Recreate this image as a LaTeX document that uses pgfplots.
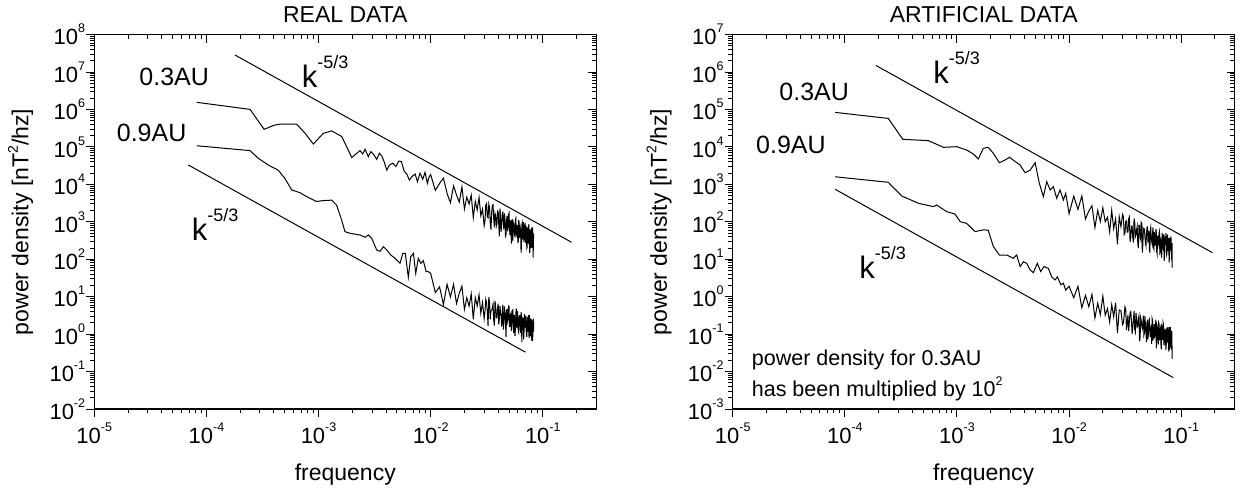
\documentclass[border=0pt]{standalone}
\usepackage{pgfplots}
\pgfplotsset{compat=1.18}
\usepackage{pgfplotstable}
\usepackage{fontspec}
\setmainfont{Liberation Sans}
\newcommand{\pw}[1]{10\raisebox{12pt}{\fontsize{12.5}{12.5}\selectfont #1}}
\newcommand{\kk}{k\raisebox{19pt}{\fontsize{18}{18}\selectfont -5/3}}

\pgfplotstableread{
f P
8.2e-5 1.56e6
2.45e-4 1.01e6
3.27e-4 2.97e5
4.0e-4 3.8e5
4.54e-4 4.1e5
6.38e-4 4.1e5
7.6e-4 2.3e5
8.99e-4 1.2e5
1.1e-3 2.3e5
1.31e-3 2.7e5
1.61e-3 1.9e5
1.78e-3 1.02e5
1.98e-3 5.2e4
2.19e-3 6.8e4
2.34e-3 8.0e4
2.48e-3 6.5e4
2.60e-3 8.7e4
2.78e-3 5.5e4
2.92e-3 7.5e4
3.08e-3 6.5e4
3.30e-3 4.7e4
3.49e-3 6.8e4
3.66e-3 5.8e4
3.84e-3 4.1e4
4.06e-3 2.4e4
4.29e-3 3.3e4
4.59e-3 3.7e4
4.91e-3 3.0e4
5.19e-3 4.2e4
5.48e-3 4.1e4
5.79e-3 2.3e4
6.12e-3 1.9e4
6.46e-3 1.3e4
6.78e-3 1.6e4
7.26e-3 1.9e4
7.62e-3 1.19e4
8.04e-3 2.0e4
8.5e-3 1.37e4
8.9e-3 2.1e4
9.35e-3 1.07e4
9.7e-3 1.6e4
0.010 18300
0.011 6930
0.012 10600
0.013 14700
0.014 5760
0.015 3240
0.016 9150
0.017 5220
0.018 3360
0.019 8600
0.020 2210
0.021 4570
0.022 2990
0.023 5150
0.024 1300
0.025 3550
0.026 2080
0.027 4510
0.028 1460
0.029 2180
0.030 790
0.0305 1050
0.031 2810
0.0315 3080
0.032 1340
0.0325 1280
0.033 2950
0.0335 2360
0.034 954
0.0345 620
0.035 1810
0.0355 2800
0.036 2880
0.0365 1190
0.037 712
0.0375 1680
0.038 1470
0.0385 768
0.039 888
0.0395 1960
0.040 1900
0.0405 823
0.041 408
0.0415 2250
0.042 1550
0.0425 540
0.043 943
0.0435 1350
0.044 1900
0.0445 900
0.045 617
0.0455 1680
0.046 1190
0.0465 416
0.047 454
0.0475 1030
0.048 1460
0.0485 560
0.049 701
0.0495 1540
0.050 1710
0.0505 642
0.051 441
0.0515 1085
0.052 762
0.0525 263
0.053 1120
0.0535 1130
0.054 301
0.0545 670
0.055 915
0.0555 818
0.056 476
0.0565 384
0.057 1160
0.0575 1250
0.058 501
0.0585 449
0.059 688
0.0595 818
0.060 287
0.0605 295
0.061 1110
0.0615 945
0.062 373
0.0625 491
0.063 693
0.0635 597
0.064 150
0.0645 222
0.065 822
0.0655 923
0.066 450
0.0665 340
0.067 986
0.0675 730
0.068 288
0.0685 371
0.069 661
0.0695 951
0.070 348
0.0705 272
0.071 796
0.0715 553
0.072 197
0.0725 207
0.073 512
0.0735 717
0.074 262
0.0745 337
0.075 869
0.0755 563
0.076 282
0.0765 149
0.077 436
0.0775 616
0.078 198
0.0785 263
0.079 586
0.0795 699
0.080 288
0.0805 198
0.081 712
0.0815 458
0.082 111
0.0825 311
0.083 481
}\realA

\pgfplotstableread{
f P
8.2e-5 1.08e5
2.45e-4 8.0e4
2.9e-4 5.0e4
3.56e-4 3.3e4
4.37e-4 2.4e4
5.0e-4 1.46e4
5.77e-4 7.1e3
6.84e-4 6.0e3
7.85e-4 4.7e3
9.6e-4 3.5e3
1.1e-3 3.7e3
1.31e-3 3.8e3
1.45e-3 2.8e3
1.61e-3 1.1e3
1.72e-3 547
1.91e-3 493
2.34e-3 446
2.60e-3 386
2.78e-3 446
2.98e-3 363
3.30e-3 177
3.54e-3 163
3.79e-3 217
4.06e-3 177
4.41e-3 130
4.81e-3 106
5.33e-3 78
5.64e-3 144
5.94e-3 144
6.32e-3 33
6.64e-3 117
7.02e-3 144
7.36e-3 42
7.76e-3 106
8.17e-3 78
8.6e-3 92
9.1e-3 47
9.5e-3 47
0.010 42
0.011 12.9
0.012 18.3
0.013 6.2
0.014 21.4
0.015 9.9
0.016 21.2
0.017 6.6
0.018 12.4
0.019 19.1
0.020 4.6
0.021 9.4
0.022 5.6
0.023 11.8
0.024 2.5
0.025 9.4
0.026 5.7
0.027 11.3
0.028 3.6
0.029 7.0
0.030 2.6
0.0305 4.1
0.031 8.4
0.0315 6.9
0.032 4.0
0.0325 1.66
0.033 9.7
0.0335 7.1
0.034 2.5
0.0345 4.2
0.035 4.3
0.0355 5.1
0.036 6.3
0.0365 2.4
0.037 1.7
0.0375 7.7
0.038 5.1
0.0385 2.7
0.039 2.7
0.0395 5.0
0.040 6.5
0.0405 1.79
0.041 2.8
0.0415 5.7
0.042 3.8
0.0425 2.9
0.043 1.6
0.0435 3.6
0.044 6.1
0.0445 1.33
0.045 2.1
0.0455 5.5
0.046 3.8
0.0465 2.0
0.047 0.83
0.0475 4.4
0.048 4.5
0.0485 2.2
0.049 2.5
0.0495 5.6
0.050 5.4
0.0505 1.6
0.051 1.6
0.0515 3.3
0.052 3.6
0.0525 1.22
0.053 1.9
0.0535 4.2
0.054 4.4
0.0545 2.0
0.055 1.08
0.0555 3.3
0.056 2.8
0.0565 0.88
0.057 1.44
0.0575 3.6
0.058 4.8
0.0585 1.55
0.059 1.55
0.0595 4.1
0.060 2.4
0.0605 1.17
0.061 1.09
0.0615 2.7
0.062 3.2
0.0625 1.83
0.063 1.59
0.0635 1.09
0.064 3.9
0.0645 3.3
0.065 0.62
0.0655 1.43
0.066 2.7
0.0665 2.7
0.067 2.6
0.0675 0.73
0.068 1.15
0.0685 3.4
0.069 2.0
0.0695 1.5
0.070 3.1
0.0705 2.2
0.071 1.36
0.0715 1.02
0.072 0.85
0.0725 2.7
0.073 2.6
0.0735 1.15
0.074 1.63
0.0745 3.2
0.075 1.14
0.0755 0.8
0.076 3.2
0.0765 2.0
0.077 0.87
0.0775 1.38
0.078 1.9
0.0785 2.6
0.079 1.34
0.0795 0.67
0.080 2.4
0.0805 1.68
0.081 0.65
0.0815 0.94
0.082 1.9
0.0825 2.6
0.083 1.16
}\realB

\pgfplotstableread{
f P
8.2e-5 8.4e4
2.44e-4 5.8e4
3.29e-4 1.6e4
5.56e-4 1.48e4
7.57e-4 9.8e3
9.95e-4 1.02e4
1.22e-3 8.3e3
1.40e-3 6.5e3
1.55e-3 4.8e3
1.72e-3 9.2e3
1.9e-3 9.8e3
2.11e-3 6.8e3
2.39e-3 3.8e3
2.69e-3 4.5e3
2.94e-3 5.3e3
3.30e-3 4.1e3
3.66e-3 3.3e3
4.05e-3 2.06e3
4.49e-3 2.4e3
4.98e-3 3.8e3
5.43e-3 1.07e3
5.9e-3 471
6.32e-3 1.19e3
6.78e-3 710
7.24e-3 871
7.76e-3 425
8.3e-3 710
8.9e-3 384
9.33e-3 578
0.010 165
0.011 485
0.012 216
0.013 491
0.014 119
0.015 195
0.016 270
0.017 70
0.018 203
0.019 102
0.020 239
0.021 100
0.022 132
0.023 54
0.024 202
0.025 66
0.026 120
0.027 25
0.028 137
0.029 74
0.030 158
0.0305 140
0.031 46
0.0315 50
0.032 102
0.0325 107
0.033 53
0.0335 53
0.034 120
0.0345 135
0.035 29
0.0355 38
0.036 75
0.0365 77
0.037 38
0.0375 28
0.038 124
0.0385 97
0.039 40
0.0395 45
0.040 61
0.0405 75
0.041 27
0.0415 20
0.042 81
0.0425 80
0.043 39
0.0435 34
0.044 96
0.0445 90
0.045 15
0.0455 25
0.046 64
0.0465 58
0.047 62
0.0475 39
0.048 27
0.0485 23
0.049 47
0.0495 70
0.050 72
0.0505 30
0.051 31
0.0515 57
0.052 19
0.0525 15
0.053 60
0.0535 71
0.054 37
0.0545 31
0.055 26
0.0555 45
0.056 71
0.0565 21
0.057 19
0.0575 54
0.058 42
0.0585 23
0.059 29
0.0595 65
0.060 53
0.0605 16
0.061 14
0.0615 40
0.062 41
0.0625 27
0.063 25
0.0635 52
0.064 57
0.0645 13
0.065 19
0.0655 33
0.066 30
0.0665 18
0.067 11
0.0675 51
0.068 41
0.0685 22
0.069 20
0.0695 37
0.070 47
0.0705 9.1
0.071 15
0.0715 40
0.072 30
0.0725 24
0.073 50
0.0735 30
0.074 13
0.0745 14
0.075 27
0.0755 46
0.076 17
0.0765 17
0.077 37
0.0775 31
0.078 8.1
0.0785 11
0.079 32
0.0795 37
0.080 20
0.0805 19
0.081 41
0.0815 24
0.082 13
0.0825 8.9
0.083 27
0.0832 6
}\artA

\pgfplotstableread{
f P
8.2e-5 1.6e3
2.44e-4 1.14e3
3.22e-4 491
4.53e-4 313
6.17e-4 255
6.6e-4 282
8.1e-4 187
9.6e-4 162
1.07e-3 101
1.22e-3 91
1.45e-3 55
1.72e-3 61
1.9e-3 60
2.11e-3 22
2.39e-3 13
2.78e-3 13
3.18e-3 10.6
3.41e-3 13
3.66e-3 6.4
3.92e-3 8.6
4.19e-3 7.8
4.49e-3 5.2
4.8e-3 4.4
5.21e-3 7.8
5.58e-3 4.7
5.98e-3 6.4
6.53e-3 5.7
7.0e-3 3.4
7.5e-3 2.8
7.87e-3 3.4
8.43e-3 2.1
8.9e-3 2.3
9.33e-3 1.5
0.010 1.9
0.011 0.94
0.012 1.89
0.013 0.51
0.014 1.09
0.015 0.54
0.016 1.16
0.017 0.27
0.018 0.67
0.019 0.33
0.020 1.04
0.021 0.32
0.022 0.48
0.023 0.21
0.024 0.61
0.025 0.29
0.026 0.69
0.027 0.106
0.028 0.44
0.029 0.42
0.030 0.18
0.0305 0.197
0.031 0.31
0.0315 0.54
0.032 0.47
0.0325 0.129
0.033 0.20
0.0335 0.32
0.034 0.12
0.0345 0.216
0.035 0.37
0.0355 0.40
0.036 0.227
0.0365 0.100
0.037 0.156
0.0375 0.247
0.038 0.42
0.0385 0.135
0.039 0.115
0.0395 0.37
0.040 0.25
0.0405 0.156
0.041 0.171
0.0415 0.265
0.042 0.31
0.0425 0.064
0.043 0.081
0.0435 0.274
0.044 0.23
0.0445 0.163
0.045 0.141
0.0455 0.20
0.046 0.31
0.0465 0.094
0.047 0.106
0.0475 0.308
0.048 0.164
0.0485 0.111
0.049 0.061
0.0495 0.203
0.050 0.22
0.0505 0.073
0.051 0.109
0.0515 0.234
0.052 0.25
0.0525 0.122
0.053 0.083
0.0535 0.150
0.054 0.161
0.0545 0.055
0.055 0.26
0.0555 0.232
0.056 0.067
0.0565 0.086
0.057 0.14
0.0575 0.185
0.058 0.087
0.0585 0.094
0.059 0.19
0.0595 0.242
0.060 0.042
0.0605 0.069
0.061 0.16
0.0615 0.141
0.062 0.10
0.0625 0.053
0.063 0.20
0.0635 0.185
0.064 0.068
0.0645 0.087
0.065 0.132
0.0655 0.146
0.066 0.052
0.0665 0.039
0.067 0.168
0.0675 0.160
0.068 0.082
0.0685 0.069
0.069 0.20
0.0695 0.182
0.070 0.053
0.0705 0.052
0.071 0.094
0.0715 0.121
0.072 0.139
0.0725 0.082
0.073 0.038
0.0735 0.050
0.074 0.117
0.0745 0.150
0.075 0.062
0.0755 0.065
0.076 0.153
0.0765 0.123
0.077 0.067
0.0775 0.034
0.078 0.093
0.0785 0.156
0.079 0.039
0.0795 0.069
0.080 0.153
0.0805 0.100
0.081 0.052
0.0815 0.047
0.082 0.098
0.0825 0.123
0.083 0.022
}\artB

\begin{document}
\begin{tikzpicture}
\useasboundingbox (-94.3pt,-80pt) rectangle (1146.7pt,409pt);
% ================= left panel =================
\begin{axis}[
  xmode=log, ymode=log,
  scale only axis, width=502pt, height=374.3pt,
  at={(0pt,0pt)}, anchor=south west,
  xmin=1e-5, xmax=0.3, ymin=1e-2, ymax=1e8,
  axis line style={line width=1.5pt},
  tick style={line width=1pt, black},
  major tick length=8pt, minor tick length=4.5pt,
  tick align=outside, xtick pos=left, ytick pos=left,
  xtick={1e-5,1e-4,1e-3,1e-2,1e-1},
  xticklabels={\pw{-5},\pw{-4},\pw{-3},\pw{-2},\pw{-1}},
  minor xtick={2e-5,3e-5,4e-5,5e-5,6e-5,7e-5,8e-5,9e-5,2e-4,3e-4,4e-4,5e-4,6e-4,7e-4,8e-4,9e-4,2e-3,3e-3,4e-3,5e-3,6e-3,7e-3,8e-3,9e-3,2e-2,3e-2,4e-2,5e-2,6e-2,7e-2,8e-2,9e-2,0.2},
  ytick={1e-2,1e-1,1,10,100,1e3,1e4,1e5,1e6,1e7,1e8},
  yticklabels={\pw{-2},\pw{-1},\pw{0},\pw{1},\pw{2},\pw{3},\pw{4},\pw{5},\pw{6},\pw{7},\pw{8}},
  minor ytick={2e-2,3e-2,4e-2,5e-2,6e-2,7e-2,8e-2,9e-2,0.2,0.3,0.4,0.5,0.6,0.7,0.8,0.9,2,3,4,5,6,7,8,9,20,30,40,50,60,70,80,90,200,300,400,500,600,700,800,900,2e3,3e3,4e3,5e3,6e3,7e3,8e3,9e3,2e4,3e4,4e4,5e4,6e4,7e4,8e4,9e4,2e5,3e5,4e5,5e5,6e5,7e5,8e5,9e5,2e6,3e6,4e6,5e6,6e6,7e6,8e6,9e6,2e7,3e7,4e7,5e7,6e7,7e7,8e7,9e7},
  tick label style={font=\fontsize{22}{22}\selectfont},
  xticklabel style={inner sep=0pt, yshift=-5.7pt},
  yticklabel style={inner sep=0pt, xshift=-1pt},
  clip=false,
  title={REAL DATA},
  title style={at={(axis description cs:0.5,1)}, anchor=base, yshift=6pt, font=\fontsize{23}{23}\selectfont},
  xlabel={frequency},
  xlabel style={at={(axis description cs:0.5,0)}, anchor=base, yshift=-71pt, font=\fontsize{23}{23}\selectfont},
  ylabel={power density [nT\raisebox{10.5pt}{\fontsize{14}{14}\selectfont 2}/hz]},
  ylabel style={at={(axis description cs:-0.1311,0.5)}, anchor=base, font=\fontsize{23}{23}\selectfont},
]
\addplot[black, line width=1pt] table[x=f,y=P] {\realA};
\addplot[black, line width=1pt] table[x=f,y=P] {\realB};
\addplot[black, line width=1pt] coordinates {(1.8e-4,2.86e7) (0.18,286)};
\addplot[black, line width=1pt] coordinates {(6.9e-5,3.3e4) (0.07,0.33)};
\node[anchor=base west, inner sep=0pt, font=\fontsize{25}{25}\selectfont] at (rel axis cs:0.0896,0.8656) {0.3AU};
\node[anchor=base west, inner sep=0pt, font=\fontsize{25}{25}\selectfont] at (rel axis cs:0.0446,0.714) {0.9AU};
\node[anchor=base west, inner sep=0pt, font=\fontsize{31}{31}\selectfont] at (rel axis cs:0.413,0.8595) {\kk};
\node[anchor=base west, inner sep=0pt, font=\fontsize{31}{31}\selectfont] at (rel axis cs:0.194,0.4497) {\kk};
\end{axis}
\begin{axis}[
  xmode=log, ymode=log,
  scale only axis, width=502pt, height=374.3pt,
  at={(0pt,0pt)}, anchor=south west,
  xmin=1e-5, xmax=0.3, ymin=1e-2, ymax=1e8,
  axis line style={line width=1.5pt},
  tick style={line width=1pt, black},
  major tick length=8pt, minor tick length=4.5pt,
  tick align=inside, xtick pos=right, ytick pos=right,
  xtick={1e-5,1e-4,1e-3,1e-2,1e-1},
  xticklabels={},
  minor xtick={2e-5,3e-5,4e-5,5e-5,6e-5,7e-5,8e-5,9e-5,2e-4,3e-4,4e-4,5e-4,6e-4,7e-4,8e-4,9e-4,2e-3,3e-3,4e-3,5e-3,6e-3,7e-3,8e-3,9e-3,2e-2,3e-2,4e-2,5e-2,6e-2,7e-2,8e-2,9e-2,0.2},
  ytick={1e-2,1e-1,1,10,100,1e3,1e4,1e5,1e6,1e7,1e8},
  yticklabels={},
  minor ytick={2e-2,3e-2,4e-2,5e-2,6e-2,7e-2,8e-2,9e-2,0.2,0.3,0.4,0.5,0.6,0.7,0.8,0.9,2,3,4,5,6,7,8,9,20,30,40,50,60,70,80,90,200,300,400,500,600,700,800,900,2e3,3e3,4e3,5e3,6e3,7e3,8e3,9e3,2e4,3e4,4e4,5e4,6e4,7e4,8e4,9e4,2e5,3e5,4e5,5e5,6e5,7e5,8e5,9e5,2e6,3e6,4e6,5e6,6e6,7e6,8e6,9e6,2e7,3e7,4e7,5e7,6e7,7e7,8e7,9e7},
]
\end{axis}
% ================= right panel =================
\begin{axis}[
  xmode=log, ymode=log,
  scale only axis, width=502pt, height=374.3pt,
  at={(638.4pt,0pt)}, anchor=south west,
  xmin=1e-5, xmax=0.3, ymin=1e-3, ymax=1e7,
  axis line style={line width=1.5pt},
  tick style={line width=1pt, black},
  major tick length=8pt, minor tick length=4.5pt,
  tick align=outside, xtick pos=left, ytick pos=left,
  xtick={1e-5,1e-4,1e-3,1e-2,1e-1},
  xticklabels={\pw{-5},\pw{-4},\pw{-3},\pw{-2},\pw{-1}},
  minor xtick={2e-5,3e-5,4e-5,5e-5,6e-5,7e-5,8e-5,9e-5,2e-4,3e-4,4e-4,5e-4,6e-4,7e-4,8e-4,9e-4,2e-3,3e-3,4e-3,5e-3,6e-3,7e-3,8e-3,9e-3,2e-2,3e-2,4e-2,5e-2,6e-2,7e-2,8e-2,9e-2,0.2},
  ytick={1e-3,1e-2,1e-1,1,10,100,1e3,1e4,1e5,1e6,1e7},
  yticklabels={\pw{-3},\pw{-2},\pw{-1},\pw{0},\pw{1},\pw{2},\pw{3},\pw{4},\pw{5},\pw{6},\pw{7}},
  minor ytick={2e-3,3e-3,4e-3,5e-3,6e-3,7e-3,8e-3,9e-3,2e-2,3e-2,4e-2,5e-2,6e-2,7e-2,8e-2,9e-2,0.2,0.3,0.4,0.5,0.6,0.7,0.8,0.9,2,3,4,5,6,7,8,9,20,30,40,50,60,70,80,90,200,300,400,500,600,700,800,900,2e3,3e3,4e3,5e3,6e3,7e3,8e3,9e3,2e4,3e4,4e4,5e4,6e4,7e4,8e4,9e4,2e5,3e5,4e5,5e5,6e5,7e5,8e5,9e5,2e6,3e6,4e6,5e6,6e6,7e6,8e6,9e6},
  tick label style={font=\fontsize{22}{22}\selectfont},
  xticklabel style={inner sep=0pt, yshift=-5.7pt},
  yticklabel style={inner sep=0pt, xshift=-1pt},
  clip=false,
  title={ARTIFICIAL DATA},
  title style={at={(axis description cs:0.5,1)}, anchor=base, yshift=6pt, font=\fontsize{23}{23}\selectfont},
  xlabel={frequency},
  xlabel style={at={(axis description cs:0.5,0)}, anchor=base, yshift=-71pt, font=\fontsize{23}{23}\selectfont},
  ylabel={power density [nT\raisebox{10.5pt}{\fontsize{14}{14}\selectfont 2}/hz]},
  ylabel style={at={(axis description cs:-0.1311,0.5)}, anchor=base, font=\fontsize{23}{23}\selectfont},
]
\addplot[black, line width=1pt] table[x=f,y=P] {\artA};
\addplot[black, line width=1pt] table[x=f,y=P] {\artB};
\addplot[black, line width=1pt] coordinates {(1.9e-4,1.5e6) (0.19,15)};
\addplot[black, line width=1pt] coordinates {(8.2e-5,740) (0.085,0.0069)};
\node[anchor=base west, inner sep=0pt, font=\fontsize{25}{25}\selectfont] at (rel axis cs:0.0928,0.8255) {0.3AU};
\node[anchor=base west, inner sep=0pt, font=\fontsize{25}{25}\selectfont] at (rel axis cs:0.0464,0.6832) {0.9AU};
\node[anchor=base west, inner sep=0pt, font=\fontsize{31}{31}\selectfont] at (rel axis cs:0.3994,0.870) {\kk};
\node[anchor=base west, inner sep=0pt, font=\fontsize{31}{31}\selectfont] at (rel axis cs:0.252,0.349) {\kk};
\node[anchor=base west, inner sep=0pt, font=\fontsize{21.5}{21.5}\selectfont] at (rel axis cs:0.0378,0.1149) {power density for 0.3AU};
\node[anchor=base west, inner sep=0pt, font=\fontsize{21.5}{21.5}\selectfont] at (rel axis cs:0.0378,0.0329) {has been multiplied by 10\raisebox{11pt}{\fontsize{12.5}{12.5}\selectfont 2}};
\end{axis}
\begin{axis}[
  xmode=log, ymode=log,
  scale only axis, width=502pt, height=374.3pt,
  at={(638.4pt,0pt)}, anchor=south west,
  xmin=1e-5, xmax=0.3, ymin=1e-3, ymax=1e7,
  axis line style={line width=1.5pt},
  tick style={line width=1pt, black},
  major tick length=8pt, minor tick length=4.5pt,
  tick align=inside, xtick pos=right, ytick pos=right,
  xtick={1e-5,1e-4,1e-3,1e-2,1e-1},
  xticklabels={},
  minor xtick={2e-5,3e-5,4e-5,5e-5,6e-5,7e-5,8e-5,9e-5,2e-4,3e-4,4e-4,5e-4,6e-4,7e-4,8e-4,9e-4,2e-3,3e-3,4e-3,5e-3,6e-3,7e-3,8e-3,9e-3,2e-2,3e-2,4e-2,5e-2,6e-2,7e-2,8e-2,9e-2,0.2},
  ytick={1e-3,1e-2,1e-1,1,10,100,1e3,1e4,1e5,1e6,1e7},
  yticklabels={},
  minor ytick={2e-3,3e-3,4e-3,5e-3,6e-3,7e-3,8e-3,9e-3,2e-2,3e-2,4e-2,5e-2,6e-2,7e-2,8e-2,9e-2,0.2,0.3,0.4,0.5,0.6,0.7,0.8,0.9,2,3,4,5,6,7,8,9,20,30,40,50,60,70,80,90,200,300,400,500,600,700,800,900,2e3,3e3,4e3,5e3,6e3,7e3,8e3,9e3,2e4,3e4,4e4,5e4,6e4,7e4,8e4,9e4,2e5,3e5,4e5,5e5,6e5,7e5,8e5,9e5,2e6,3e6,4e6,5e6,6e6,7e6,8e6,9e6},
]
\end{axis}
\end{tikzpicture}
\end{document}
